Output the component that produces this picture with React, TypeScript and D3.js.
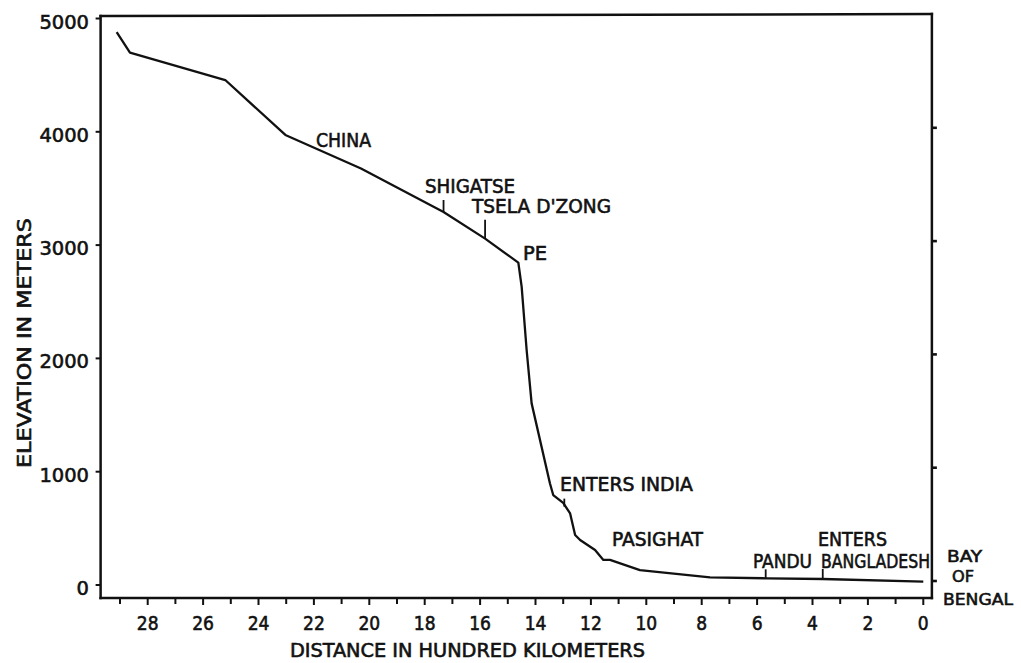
import React from "react";
import * as d3 from "d3";

// Brahmaputra longitudinal profile
const distance = [29.12, 28.64, 25.2, 23.03, 20.3, 17.32, 15.82, 14.62, 14.5, 14.32, 14.14, 13.48, 13.36, 13.0, 12.75, 12.57, 12.39, 11.85, 11.55, 11.31, 10.23, 7.7, 5.65, 3.63, 0];
const elevation = [4879, 4698, 4457, 3972, 3676, 3292, 3057, 2845, 2633, 2074, 1603, 898, 794, 724, 632, 441, 397, 309, 221, 221, 132, 68, 59, 53, 29];

const xMajorTicks = [28, 26, 24, 22, 20, 18, 16, 14, 12, 10, 8, 6, 4, 2, 0];
const xMinorTicks = [29, 27, 25, 23, 21, 19, 17, 15, 13, 11, 9, 7, 5, 3, 1];
const yTicks = [0, 1000, 2000, 3000, 4000, 5000];
const yTickLabels = ["0", "1000", "2000", "3000", "4000", "5000"];

const placeNames = ["CHINA", "SHIGATSE", "TSELA D'ZONG", "PE", "ENTERS INDIA", "PASIGHAT", "PANDU", "ENTERS", "BANGLADESH"];
const markerNames = ["SHIGATSE", "TSELA D'ZONG", "ENTERS INDIA", "PANDU", "BANGLADESH"];
const markerDistances = [17.32, 15.82, 12.96, 5.69, 3.63];
const seaLabel = ["BAY", "OF", "BENGAL"];

const W = 1021;
const H = 663;
const FONT = "'DejaVu Sans Condensed', 'DejaVu Sans', sans-serif";

export default function App() {
  const x = d3.scaleLinear().domain([0, 28]).range([923.3, 147.7]);
  const y = d3.scaleLinear().domain([0, 5000]).range([585, 18.5]);

  const left = x(29.7);
  const right = x(-0.31);
  const top = 16;
  const bottom = 598;

  const pts: [number, number][] = distance.map((d, i) => [d, elevation[i]]);
  const line = d3
    .line<[number, number]>()
    .x((p) => x(p[0]))
    .y((p) => y(p[1]))
    .curve(d3.curveLinear);

  const elevAt = (d: number) => {
    for (let i = 0; i < distance.length - 1; i++) {
      const a = distance[i], b = distance[i + 1];
      if (d <= a && d >= b) {
        const t = (a - d) / (a - b);
        return elevation[i] + t * (elevation[i + 1] - elevation[i]);
      }
    }
    return elevation[elevation.length - 1];
  };
  const markerLen = [12, 19, 8, 9, 10];
  const markerShift = [0, 0, 2, 0, 0];

  const labelPos: [number, number, number][] = [
    [316, 147, 55],
    [425, 193, 90],
    [472, 213, 139],
    [523, 260, 24],
    [560, 491, 133],
    [612, 546, 91],
    [753, 568, 59],
    [818, 546, 69],
    [821, 568, 109],
  ];
  const seaPos: [number, number, number][] = [
    [947, 562, 35],
    [952, 582, 22],
    [943, 605, 70],
  ];

  const textStyle = { fontFamily: FONT, fontSize: 19, fill: "#111", stroke: "#111", strokeWidth: 0.55 } as const;

  return (
    <svg width={W} height={H} style={{ position: "absolute", left: 0, top: 0, background: "#fff" }}>
      <rect x={0} y={0} width={W} height={H} fill="#fff" />
      <g stroke="#111" strokeWidth={2.5} fill="none" strokeLinecap="square">
        <line x1={left} y1={top} x2={left} y2={bottom} />
        <line x1={left} y1={bottom} x2={right} y2={bottom} />
        <line x1={left} y1={top} x2={right} y2={top - 2} />
        <line x1={right} y1={top - 2} x2={right} y2={bottom} />
      </g>
      <g stroke="#111" strokeWidth={2}>
        {xMajorTicks.map((t) => (
          <line key={"M" + t} x1={x(t)} x2={x(t)} y1={bottom} y2={bottom + 7} />
        ))}
        {xMinorTicks.map((t) => (
          <line key={"m" + t} x1={x(t)} x2={x(t)} y1={bottom} y2={bottom + 6} />
        ))}
      </g>
      {xMajorTicks.map((t) => (
        <text key={"L" + t} x={x(t)} y={630} textAnchor="middle" {...textStyle} fontSize={19}>
          {String(t)}
        </text>
      ))}
      <g stroke="#111" strokeWidth={2}>
        {yTicks.map((t) => (
          <line key={"y" + t} x1={left - 5} x2={left} y1={y(t)} y2={y(t)} />
        ))}
        {yTicks.slice(0, 5).map((t) => (
          <line key={"r" + t} x1={right} x2={right + 5} y1={y(t) - 4} y2={y(t) - 4} strokeWidth={2.6} />
        ))}
      </g>
      {yTicks.map((t, i) => (
        <text
          key={"yl" + t}
          x={89}
          y={y(t) + 10}
          textAnchor="end"
          {...textStyle}
          fontSize={20}
          textLength={yTickLabels[i].length * 12.4}
          lengthAdjust="spacingAndGlyphs"
        >
          {yTickLabels[i]}
        </text>
      ))}
      <text x={290} y={657} {...textStyle} textLength={355} lengthAdjust="spacingAndGlyphs">
        DISTANCE IN HUNDRED KILOMETERS
      </text>
      <text
        transform={`translate(30.5, 468) rotate(-90)`}
        x={0}
        y={0}
        {...textStyle}
        textLength={250}
        lengthAdjust="spacingAndGlyphs"
      >
        ELEVATION IN METERS
      </text>
      <path d={line(pts) || ""} fill="none" stroke="#111" strokeWidth={2.3} strokeLinejoin="round" />
      <g stroke="#111" strokeWidth={1.8}>
        {markerDistances.map((d, i) => {
          const px = x(d);
          const py = y(elevAt(d)) + markerShift[i];
          return <line key={markerNames[i]} x1={px} x2={px} y1={py} y2={py - markerLen[i]} />;
        })}
      </g>
      {placeNames.map((n, i) => (
        <text
          key={n + i}
          x={labelPos[i][0]}
          y={labelPos[i][1]}
          {...textStyle}
          textLength={labelPos[i][2]}
          lengthAdjust="spacingAndGlyphs"
        >
          {n}
        </text>
      ))}
      {seaLabel.map((n, i) => (
        <text
          key={n}
          x={seaPos[i][0]}
          y={seaPos[i][1]}
          {...textStyle}
          fontSize={16}
          textLength={seaPos[i][2]}
          lengthAdjust="spacingAndGlyphs"
        >
          {n}
        </text>
      ))}
    </svg>
  );
}
